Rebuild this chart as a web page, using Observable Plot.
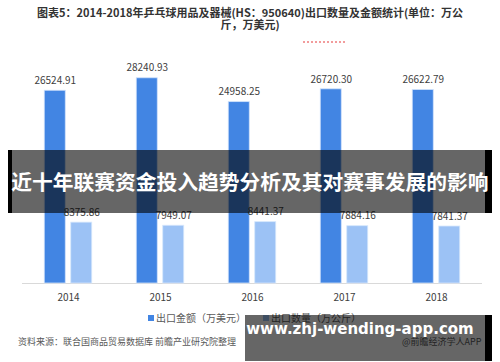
<!DOCTYPE html>
<html>
<head>
<meta charset="utf-8">
<script src="https://cdn.jsdelivr.net/npm/d3@7"></script>
<script src="https://cdn.jsdelivr.net/npm/@observablehq/plot@0.6"></script>
<style>
  html, body { margin: 0; padding: 0; background: #fff; }
  #wrap { position: relative; width: 500px; height: 362px; overflow: hidden; background: #fff;
          font-family: "Noto Sans CJK SC", "Noto Sans", sans-serif; }
  #title { position: absolute; left: 0; top: 6px; width: 500px; text-align: center;
           font-size: 11px; font-weight: bold; line-height: 12px; color: #333; }
  #redline { position: absolute; left: 303px; top: 41px; width: 42px; height: 0;
             border-top: 2px dotted #f29c9c; }
  #chart { position: absolute; left: 0; top: 40px; }
  #legend { position: absolute; top: 311px; left: 0; width: 500px; font-size: 10px; color: #595959; line-height: 14px; }
  .lg { position: absolute; white-space: nowrap; }
  .sw { display: inline-block; width: 6px; height: 6px; margin-right: 2px; vertical-align: 1px; }
  #source { position: absolute; left: 18px; top: 336px; font-size: 9px; color: #595959; line-height: 12px; white-space: nowrap; }
  #app { position: absolute; left: 402px; top: 336px; font-size: 9px; color: #595959; line-height: 12px; white-space: nowrap; }
  .blk { position: absolute; background: #000; }
  .shade { position: absolute; background: rgba(0,0,0,0.6); }
  .btext { position: absolute; color: #fff; font-weight: bold; white-space: nowrap; }
  #b1text { top: 150px; height: 63px; line-height: 63px; font-size: 21px; }
  #b2text { top: 315px; height: 28px; line-height: 28px; font-size: 19px; font-family: "DejaVu Sans", sans-serif; }
</style>
</head>
<body>
<div id="wrap">
  <div id="title">图表5：2014-2018年乒乓球用品及器械(HS：950640)出口数量及金额统计(单位：万公<br>斤，万美元)</div>
  <div id="redline"></div>
  <div id="chart"></div>
  <div id="legend"></div>
  <div id="source">资料来源：联合国商品贸易数据库 前瞻产业研究院整理</div>
  <div id="app">@前瞻经济学人APP</div>
  <div class="blk" style="left:8px; top:150px; width:4px; height:63px"></div>
  <div class="shade" style="left:12px; top:150px; width:473px; height:63px"></div>
  <div class="blk" style="left:485px; top:150px; width:7px; height:63px"></div>
  <div id="b1text" class="btext">近十年联赛资金投入趋势分析及其对赛事发展的影响</div>
  <div class="shade" style="left:245px; top:315px; width:240px; height:46px"></div>
  <div class="blk" style="left:485px; top:315px; width:7px; height:46px"></div>
  <div id="b2text" class="btext">www.zhj-wending-app.com</div>
</div>
<script>
const years = ["2014", "2015", "2016", "2017", "2018"];
const amount = [26524.91, 28240.93, 24958.25, 26720.30, 26622.79];
const amountLabels = ["26524.91", "28240.93", "24958.25", "26720.30", "26622.79"];
const quantity = [8375.86, 7949.07, 8441.37, 7884.16, 7841.37];
const quantityLabels = ["8375.86", "7949.07", "8441.37", "7884.16", "7841.37"];
const seriesNames = ["出口金额（万美元）", "出口数量（万公斤）"];
const seriesColors = ["#4285e3", "#9cc2f5"];

const amountData = years.map((y, i) => ({year: y, value: amount[i], label: amountLabels[i]}));
const quantityData = years.map((y, i) => ({year: y, value: quantity[i], label: quantityLabels[i]}));

const chart = Plot.plot({
  width: 500,
  height: 265,
  marginLeft: 22,
  marginRight: 18,
  marginTop: 25,
  marginBottom: 22,
  x: {domain: years, padding: 0, round: false, label: null, tickSize: 0, tickPadding: 10},
  y: {domain: [0, 30000], axis: null},
  style: {fontFamily: "'Noto Sans CJK SC', sans-serif", fontSize: "10px", color: "#404040", background: "transparent", overflow: "visible"},
  marks: [
    Plot.ruleY([0], {stroke: "#d9d9d9", strokeWidth: 1}),
    Plot.barY(amountData, {x: "year", y: "value", fill: seriesColors[0], stroke: "#cfe1fa", strokeWidth: 0.8,
      insetLeft: 22.25, insetRight: 48.75}),
    Plot.barY(quantityData, {x: "year", y: "value", fill: seriesColors[1], stroke: "#d6e7fc", strokeWidth: 0.8,
      insetLeft: 48.75, insetRight: 22.25}),
    Plot.text(amountData, {x: "year", y: "value", text: "label", dx: -13.25, dy: -10, fill: "#404040", fontSize: 10}),
    Plot.text(quantityData, {x: "year", y: "value", text: "label", dx: 13.25, dy: -10, fill: "#404040", fontSize: 10})
  ]
});
document.getElementById("chart").appendChild(chart);

const legend = document.getElementById("legend");
const legendX = [148, 263];
seriesNames.forEach((name, i) => {
  const d = document.createElement("div");
  d.className = "lg";
  d.style.left = legendX[i] + "px";
  d.innerHTML = `<span class="sw" style="background:${seriesColors[i]}"></span>${name}`;
  legend.appendChild(d);
});

// fit banner texts to their spans
function fit(el, left, width) {
  let fs = parseFloat(getComputedStyle(el).fontSize);
  for (let k = 0; k < 40 && el.getBoundingClientRect().width > width; k++) {
    fs -= 0.25; el.style.fontSize = fs + "px";
  }
  const w = el.getBoundingClientRect().width;
  el.style.left = (left + (width - w) / 2) + "px";
}
fit(document.getElementById("b1text"), 9, 482);
fit(document.getElementById("b2text"), 245, 230);
</script>
</body>
</html>
